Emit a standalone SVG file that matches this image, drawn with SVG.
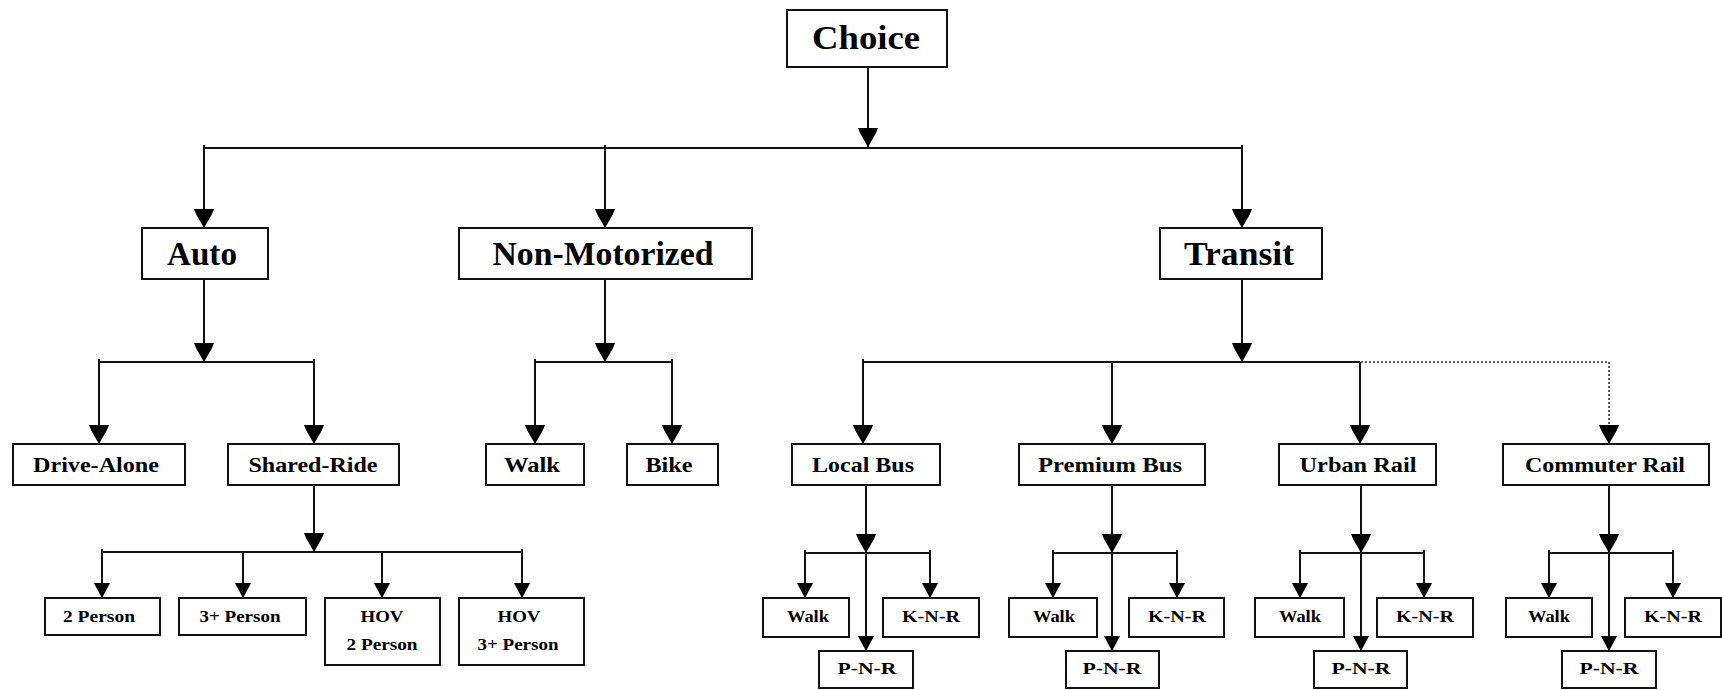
<svg xmlns="http://www.w3.org/2000/svg" xmlns:xlink="http://www.w3.org/1999/xlink" width="1722" height="690" viewBox="0 0 1722 690">
<style>
.bx{fill:#fff;stroke:#111;stroke-width:2}
.ln{fill:none;stroke:#111;stroke-width:2}
.dt{fill:none;stroke:#333;stroke-width:1.6;stroke-dasharray:2 2}
.t1{font-family:"Liberation Serif","Times New Roman",serif;font-weight:bold;font-size:33px;fill:#000;text-anchor:middle}
.t2{font-family:"Liberation Serif","Times New Roman",serif;font-weight:bold;font-size:22px;fill:#000;text-anchor:middle}
.t3{font-family:"Liberation Serif","Times New Roman",serif;font-weight:bold;font-size:16px;fill:#000;text-anchor:middle}
.ah{fill:#000}
</style>
<defs>
<path id="ab" d="M-10,-19 H10 L8,-14 L0,0 L-8,-14 Z"/>
<path id="as" d="M-8,-15 H8 L6,-11 L0,0 L-6,-11 Z"/>
</defs>
<rect width="1722" height="690" fill="#fff"/>
<g id="connectors">
<path class="ln" d="M868,67 V147 M204,148 H1242 M204,145 V228 M605,145 V228 M1242,145 V228"/>
<path class="ln" d="M204,279 V362 M99,362 H314 M99,359 V444 M314,359 V444"/>
<path class="ln" d="M605,279 V362 M535,362 H672 M535,359 V444 M672,359 V444"/>
<path class="ln" d="M1242,279 V362 M863,362 H1360 M863,359 V444 M1112,362 V444 M1360,362 V444"/>
<path class="dt" d="M1361,362 H1609 V438"/>
<path class="ln" d="M314,485 V552 M102,552 H522 M102,549 V598 M243,552 V598 M382,552 V598 M522,549 V598"/>
<path class="ln" d="M866,485 V651 M805,553 H930 M805,550 V598 M930,550 V598"/>
<path class="ln" d="M1112,485 V651 M1053,553 H1177 M1053,550 V598 M1177,550 V598"/>
<path class="ln" d="M1361,485 V651 M1300,553 H1424 M1300,550 V598 M1424,550 V598"/>
<path class="ln" d="M1609,485 V651 M1549,553 H1673 M1549,550 V598 M1673,550 V598"/>
<g class="ah">
<use xlink:href="#ab" x="868" y="147"/>
<use xlink:href="#ab" x="204" y="228"/>
<use xlink:href="#ab" x="605" y="228"/>
<use xlink:href="#ab" x="1242" y="228"/>
<use xlink:href="#ab" x="204" y="362"/>
<use xlink:href="#ab" x="605" y="362"/>
<use xlink:href="#ab" x="1242" y="362"/>
<use xlink:href="#ab" x="99" y="444"/>
<use xlink:href="#ab" x="314" y="444"/>
<use xlink:href="#ab" x="535" y="444"/>
<use xlink:href="#ab" x="672" y="444"/>
<use xlink:href="#ab" x="863" y="444"/>
<use xlink:href="#ab" x="1112" y="444"/>
<use xlink:href="#ab" x="1360" y="444"/>
<use xlink:href="#ab" x="1609" y="444"/>
<use xlink:href="#ab" x="314" y="552"/>
<use xlink:href="#ab" x="866" y="553"/>
<use xlink:href="#ab" x="1112" y="553"/>
<use xlink:href="#ab" x="1361" y="553"/>
<use xlink:href="#ab" x="1609" y="553"/>
<use xlink:href="#as" x="102" y="598"/>
<use xlink:href="#as" x="243" y="598"/>
<use xlink:href="#as" x="382" y="598"/>
<use xlink:href="#as" x="522" y="598"/>
<use xlink:href="#as" x="805" y="598"/>
<use xlink:href="#as" x="930" y="598"/>
<use xlink:href="#as" x="866" y="651"/>
<use xlink:href="#as" x="1053" y="598"/>
<use xlink:href="#as" x="1177" y="598"/>
<use xlink:href="#as" x="1112" y="651"/>
<use xlink:href="#as" x="1300" y="598"/>
<use xlink:href="#as" x="1424" y="598"/>
<use xlink:href="#as" x="1361" y="651"/>
<use xlink:href="#as" x="1549" y="598"/>
<use xlink:href="#as" x="1673" y="598"/>
<use xlink:href="#as" x="1609" y="651"/>
</g>
</g>
<g id="choice"><rect class="bx" x="787" y="10" width="160" height="57"/><text class="t1" x="866" y="49" textLength="108" lengthAdjust="spacingAndGlyphs">Choice</text></g>
<g id="auto"><rect class="bx" x="142" y="228" width="126" height="51"/><text class="t1" x="202" y="265" textLength="70" lengthAdjust="spacingAndGlyphs">Auto</text></g>
<g id="nonmotorized"><rect class="bx" x="459" y="228" width="293" height="51"/><text class="t1" x="603" y="265" textLength="221" lengthAdjust="spacingAndGlyphs">Non-Motorized</text></g>
<g id="transit"><rect class="bx" x="1160" y="228" width="162" height="51"/><text class="t1" x="1239" y="265" textLength="110" lengthAdjust="spacingAndGlyphs">Transit</text></g>
<g id="drive-alone"><rect class="bx" x="13" y="444" width="172" height="41"/><text class="t2" x="96" y="472" textLength="126" lengthAdjust="spacingAndGlyphs">Drive-Alone</text></g>
<g id="shared-ride"><rect class="bx" x="228" y="444" width="171" height="41"/><text class="t2" x="313" y="472" textLength="129" lengthAdjust="spacingAndGlyphs">Shared-Ride</text></g>
<g id="walk"><rect class="bx" x="486" y="444" width="98" height="41"/><text class="t2" x="532" y="472" textLength="56" lengthAdjust="spacingAndGlyphs">Walk</text></g>
<g id="bike"><rect class="bx" x="627" y="444" width="91" height="41"/><text class="t2" x="669" y="472" textLength="47" lengthAdjust="spacingAndGlyphs">Bike</text></g>
<g id="local-bus"><rect class="bx" x="792" y="444" width="148" height="41"/><text class="t2" x="863" y="472" textLength="102" lengthAdjust="spacingAndGlyphs">Local Bus</text></g>
<g id="premium-bus"><rect class="bx" x="1019" y="444" width="186" height="41"/><text class="t2" x="1110" y="472" textLength="144" lengthAdjust="spacingAndGlyphs">Premium Bus</text></g>
<g id="urban-rail"><rect class="bx" x="1279" y="444" width="157" height="41"/><text class="t2" x="1358" y="472" textLength="117" lengthAdjust="spacingAndGlyphs">Urban Rail</text></g>
<g id="commuter-rail"><rect class="bx" x="1503" y="444" width="206" height="41"/><text class="t2" x="1605" y="472" textLength="160" lengthAdjust="spacingAndGlyphs">Commuter Rail</text></g>
<g id="two-person"><rect class="bx" x="45" y="598" width="115" height="37"/><text class="t3" x="99" y="622" textLength="72" lengthAdjust="spacingAndGlyphs">2 Person</text></g>
<g id="three-person"><rect class="bx" x="179" y="598" width="127" height="37"/><text class="t3" x="240" y="622" textLength="81" lengthAdjust="spacingAndGlyphs">3+ Person</text></g>
<g id="hov-two"><rect class="bx" x="325" y="598" width="115" height="67"/><text class="t3" x="382" y="622" textLength="43" lengthAdjust="spacingAndGlyphs">HOV</text><text class="t3" x="382" y="650" textLength="71" lengthAdjust="spacingAndGlyphs">2 Person</text></g>
<g id="hov-three"><rect class="bx" x="459" y="598" width="125" height="67"/><text class="t3" x="519" y="622" textLength="43" lengthAdjust="spacingAndGlyphs">HOV</text><text class="t3" x="518" y="650" textLength="81" lengthAdjust="spacingAndGlyphs">3+ Person</text></g>
<g id="lb-walk"><rect class="bx" x="763" y="598" width="86" height="39"/><text class="t3" x="808" y="622" textLength="42" lengthAdjust="spacingAndGlyphs">Walk</text></g>
<g id="lb-knr"><rect class="bx" x="883" y="598" width="96" height="39"/><text class="t3" x="931" y="622" textLength="58" lengthAdjust="spacingAndGlyphs">K-N-R</text></g>
<g id="lb-pnr"><rect class="bx" x="819" y="651" width="94" height="37"/><text class="t3" x="867" y="674" textLength="59" lengthAdjust="spacingAndGlyphs">P-N-R</text></g>
<g id="pb-walk"><rect class="bx" x="1009" y="598" width="88" height="39"/><text class="t3" x="1054" y="622" textLength="42" lengthAdjust="spacingAndGlyphs">Walk</text></g>
<g id="pb-knr"><rect class="bx" x="1129" y="598" width="95" height="39"/><text class="t3" x="1177" y="622" textLength="58" lengthAdjust="spacingAndGlyphs">K-N-R</text></g>
<g id="pb-pnr"><rect class="bx" x="1066" y="651" width="93" height="37"/><text class="t3" x="1112" y="674" textLength="59" lengthAdjust="spacingAndGlyphs">P-N-R</text></g>
<g id="ur-walk"><rect class="bx" x="1255" y="598" width="89" height="39"/><text class="t3" x="1300" y="622" textLength="42" lengthAdjust="spacingAndGlyphs">Walk</text></g>
<g id="ur-knr"><rect class="bx" x="1377" y="598" width="96" height="39"/><text class="t3" x="1425" y="622" textLength="58" lengthAdjust="spacingAndGlyphs">K-N-R</text></g>
<g id="ur-pnr"><rect class="bx" x="1314" y="651" width="93" height="37"/><text class="t3" x="1361" y="674" textLength="59" lengthAdjust="spacingAndGlyphs">P-N-R</text></g>
<g id="cr-walk"><rect class="bx" x="1506" y="598" width="86" height="39"/><text class="t3" x="1549" y="622" textLength="42" lengthAdjust="spacingAndGlyphs">Walk</text></g>
<g id="cr-knr"><rect class="bx" x="1625" y="598" width="96" height="39"/><text class="t3" x="1673" y="622" textLength="58" lengthAdjust="spacingAndGlyphs">K-N-R</text></g>
<g id="cr-pnr"><rect class="bx" x="1562" y="651" width="94" height="37"/><text class="t3" x="1609" y="674" textLength="59" lengthAdjust="spacingAndGlyphs">P-N-R</text></g>
</svg>
